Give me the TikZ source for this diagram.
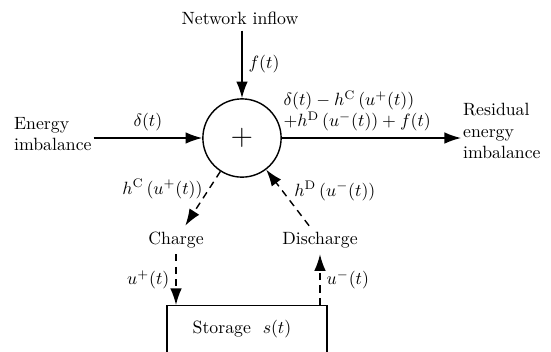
\documentclass[tikz,border=0pt]{standalone}
\usetikzlibrary{positioning,arrows.meta,calc}

\begin{document}
\begin{tikzpicture}[
  x=0.0198cm,y=-0.0198cm,
  sumnode/.style={draw,thick,circle,minimum size=1.55cm,inner sep=0pt},
  block/.style={draw,thick,minimum width=3.17cm,minimum height=2cm,anchor=north},
  flow/.style={-{Latex[length=3.3mm,width=2.3mm]},thick},
  ctrl/.style={flow,dash pattern=on 4pt off 3pt},
  txt/.style={align=left,inner sep=1pt},
]
  \useasboundingbox (0,0) rectangle (551,351);

  % Summing junction and the signals around it.
  \node[sumnode] (sum) at (242,138) {\LARGE $+$};
  \node (net) at (240,18) {Network inflow};
  \node[txt,anchor=west] (ein) at (12,134) {Energy\\imbalance};
  \node[txt,anchor=west] (eout) at (461,131) {Residual\\energy\\imbalance};
  \node (chg) at (176,240) {Charge};
  \node (dis) at (320,240) {Discharge};
  \node[block] (sto) at (247,305) {};
  \node (stotxt) at (242,329) {Storage\ \ $s(t)$};

  \draw[flow] (net.south -| sum) -- (sum) node[midway,right] {$f(t)$};
  \draw[flow] (ein.east |- sum.west) -- (sum.west) node[midway,above] {$\delta(t)$};
  \draw[flow] (sum.east) -- (eout.west |- sum.east)
    node[midway,above,align=left,xshift=-8pt] {$\delta(t) - h^{\mathrm{C}}\left(u^{+}(t)\right)$\\$+h^{\mathrm{D}}\left(u^{-}(t)\right) + f(t)$};

  % Storage loop (dashed).
  \draw[ctrl] (sum) -- (chg) node[pos=0.32,left=0pt] {$h^{\mathrm{C}}\left(u^{+}(t)\right)$};
  \draw[ctrl] (dis) -- (sum) node[pos=0.62,right=3pt] {$h^{\mathrm{D}}\left(u^{-}(t)\right)$};
  \draw[ctrl] (chg) -- (chg |- sto.north) node[midway,left] {$u^{+}(t)$};
  \draw[ctrl] (dis |- sto.north) -- (dis) node[midway,right] {$u^{-}(t)$};

\end{tikzpicture}
\end{document}
